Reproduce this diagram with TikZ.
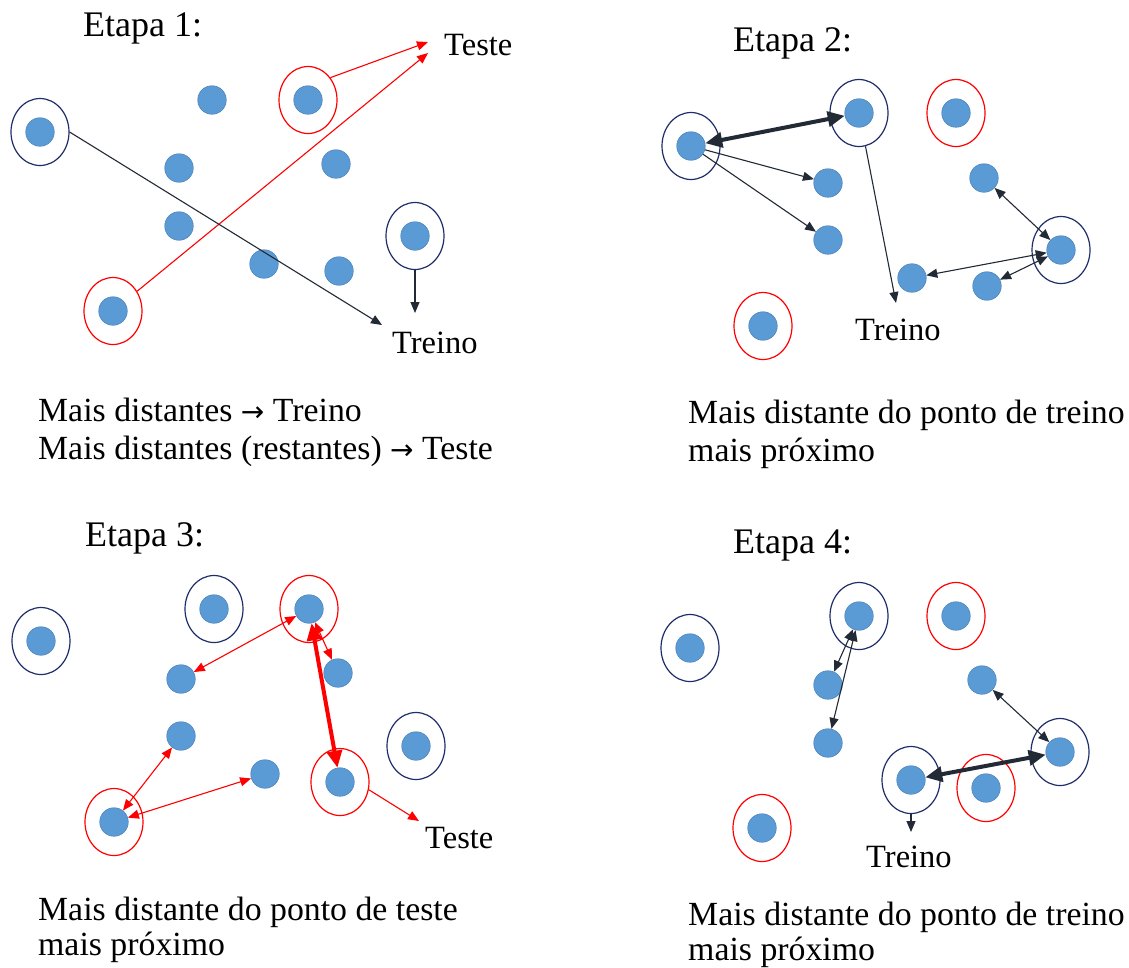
\documentclass[tikz,border=0pt]{standalone}
\usepackage{fontspec}
\setmainfont{Liberation Serif}
\newfontfamily\arrowfont{DejaVu Sans}
\usetikzlibrary{arrows.meta,shapes.geometric}
\definecolor{dotblue}{HTML}{5B9BD5}
\definecolor{dotedge}{HTML}{4F86BF}
\definecolor{navy}{HTML}{1F2E6B}
\definecolor{redr}{HTML}{FF0000}
\definecolor{dark}{HTML}{222A35}
\tikzset{
  pt/.style={circle, fill=dotblue, draw=dotedge, line width=0.6pt, minimum size=28.5pt, inner sep=0pt},
  ringn/.style={ellipse, draw=navy, line width=1.2pt, minimum width=58pt, minimum height=67pt, inner sep=0pt},
  ringr/.style={ellipse, draw=redr, line width=1.2pt, minimum width=58pt, minimum height=67pt, inner sep=0pt},
  ttl/.style={font=\fontsize{36}{40}\selectfont, anchor=base west, inner sep=0pt},
  lbl/.style={font=\fontsize{32.5}{36}\selectfont, anchor=base west, inner sep=0pt},
  body/.style={font=\fontsize{33.8}{38}\selectfont, anchor=base west, inner sep=0pt},
  tip/.tip={Triangle[length=11pt,width=9pt]},
  bigtip/.tip={Triangle[length=17pt,width=15pt]},
  da/.style={draw=dark, line width=1.1pt, -tip},
  dda/.style={draw=dark, line width=1.1pt, tip-tip},
  dthick/.style={draw=dark, line width=4pt, bigtip-bigtip},
  ra/.style={draw=redr, line width=1.1pt, -tip},
  rda/.style={draw=redr, line width=1.1pt, tip-tip},
  rthick/.style={draw=redr, line width=4pt, bigtip-bigtip},
}
\newcommand{\myarrow}{{\arrowfont\fontsize{28}{30}\selectfont →}}
\begin{document}
\begin{tikzpicture}[x=1pt,y=-1pt]
\useasboundingbox[fill=white] (0,0) rectangle (1129,967);

% ---------------- Etapa 1 ----------------
\node[ttl] (t1) at (83,36) {Etapa 1:};
\node[pt] (p1a) at (40,132) {};   \node[ringn] (r1a) at (40,132) {};
\node[pt] (p1b) at (212,100) {};
\node[pt] (p1c) at (308,100) {};  \node[ringr] (r1c) at (308,100) {};
\node[pt] (p1d) at (179,168) {};
\node[pt] (p1e) at (336,164) {};
\node[pt] (p1f) at (179,226) {};
\node[pt] (p1g) at (264,264) {};
\node[pt] (p1h) at (339,271) {};
\node[pt] (p1i) at (415,236) {};  \node[ringn] (r1i) at (415,236) {};
\node[pt] (p1j) at (113,311) {};  \node[ringr] (r1j) at (113,311) {};
\node[lbl] (te1) at (444,55) {Teste};
\node[lbl] (tr1) at (392,353) {Treino};
\coordinate (c1te1) at (428,42);
\coordinate (c1te2) at (428,53);
\coordinate (c1tr1) at (382,325);
\coordinate (c1tr2) at (415,313);
\draw[ra] (r1c.45) -- (c1te1);
\draw[ra] (r1j) -- (c1te2);
\draw[da] (r1a.east) -- (c1tr1);
\draw[da] (r1i.south) -- (c1tr2);
\node[body] (b1a) at (38,421) {Mais distantes \myarrow{} Treino};
\node[body] (b1b) at (38,459) {Mais distantes (restantes) \myarrow{} Teste};

% ---------------- Etapa 2 ----------------
\node[ttl] (t2) at (733,51) {Etapa 2:};
\node[pt] (p2a) at (691,146) {};  \node[ringn] (r2a) at (691,146) {};
\node[pt] (p2b) at (859,113) {};  \node[ringn] (r2b) at (859,113) {};
\node[pt] (p2c) at (956,113) {};  \node[ringr] (r2c) at (956,113) {};
\node[pt] (p2d) at (828,183) {};
\node[pt] (p2e) at (828,240) {};
\node[pt] (p2f) at (984,178) {};
\node[pt] (p2g) at (1061,250) {}; \node[ringn] (r2g) at (1061,250) {};
\node[pt] (p2h) at (912,278) {};
\node[pt] (p2i) at (987,286) {};
\node[pt] (p2j) at (763,326) {};  \node[ringr] (r2j) at (763,326) {};
\node[lbl] (tr2) at (855,340) {Treino};
\coordinate (c2tr) at (896,303);
\draw[dthick] (p2a) -- (p2b);
\draw[da] (p2a) -- (p2d);
\draw[da] (p2a) -- (p2e);
\draw[da] (r2b) -- (c2tr);
\draw[dda] (p2f) -- (p2g);
\draw[dda] (p2g) -- (p2h);
\draw[dda] (p2g) -- (p2i);
\node[body] (b2a) at (688,423) {Mais distante do ponto de treino};
\node[body] (b2b) at (688,461) {mais próximo};

% ---------------- Etapa 3 ----------------
\node[ttl] (t3) at (85,546) {Etapa 3:};
\node[pt] (p3a) at (41,641) {};   \node[ringn] (r3a) at (41,641) {};
\node[pt] (p3b) at (214,609) {};  \node[ringn] (r3b) at (214,609) {};
\node[pt] (p3c) at (309,609) {};  \node[ringr] (r3c) at (309,609) {};
\node[pt] (p3d) at (181,679) {};
\node[pt] (p3e) at (338,673) {};
\node[pt] (p3f) at (181,736) {};
\node[pt] (p3g) at (265,774) {};
\node[pt] (p3h) at (416,746) {};  \node[ringn] (r3h) at (416,746) {};
\node[pt] (p3i) at (340,782) {};  \node[ringr] (r3i) at (340,782) {};
\node[pt] (p3j) at (114,822) {};  \node[ringr] (r3j) at (114,822) {};
\node[lbl] (te3) at (425,848) {Teste};
\coordinate (c3te) at (419,821);
\draw[rthick] (p3c) -- (p3i);
\draw[rda] (p3c) -- (p3d);
\draw[rda] (p3c) -- (p3e);
\draw[rda] (p3j) -- (p3f);
\draw[rda] (p3j) -- (p3g);
\draw[ra] (r3i.-15) -- (c3te);
\node[body] (b3a) at (38,920) {Mais distante do ponto de teste};
\node[body] (b3b) at (38,955) {mais próximo};

% ---------------- Etapa 4 ----------------
\node[ttl] (t4) at (733,553) {Etapa 4:};
\node[pt] (p4a) at (690,648) {};  \node[ringn] (r4a) at (690,648) {};
\node[pt] (p4b) at (859,616) {};  \node[ringn] (r4b) at (859,616) {};
\node[pt] (p4c) at (956,616) {};  \node[ringr] (r4c) at (956,616) {};
\node[pt] (p4d) at (828,685) {};
\node[pt] (p4e) at (828,743) {};
\node[pt] (p4f) at (982,680) {};
\node[pt] (p4g) at (1060,752) {}; \node[ringn] (r4g) at (1060,752) {};
\node[pt] (p4h) at (911,780) {};  \node[ringn] (r4h) at (911,780) {};
\node[pt] (p4i) at (986,788) {};  \node[ringr] (r4i) at (986,788) {};
\node[pt] (p4j) at (762,828) {};  \node[ringr] (r4j) at (762,828) {};
\node[lbl] (tr4) at (866,867) {Treino};
\coordinate (c4tr) at (911,832);
\draw[dthick] (p4h) -- (p4g);
\draw[dda] (p4b) -- (p4d);
\draw[dda] (p4b) -- (p4e);
\draw[dda] (p4f) -- (p4g);
\draw[da] (r4h.south) -- (c4tr);
\node[body] (b4a) at (688,925) {Mais distante do ponto de treino};
\node[body] (b4b) at (688,960) {mais próximo};
\end{tikzpicture}
\end{document}
